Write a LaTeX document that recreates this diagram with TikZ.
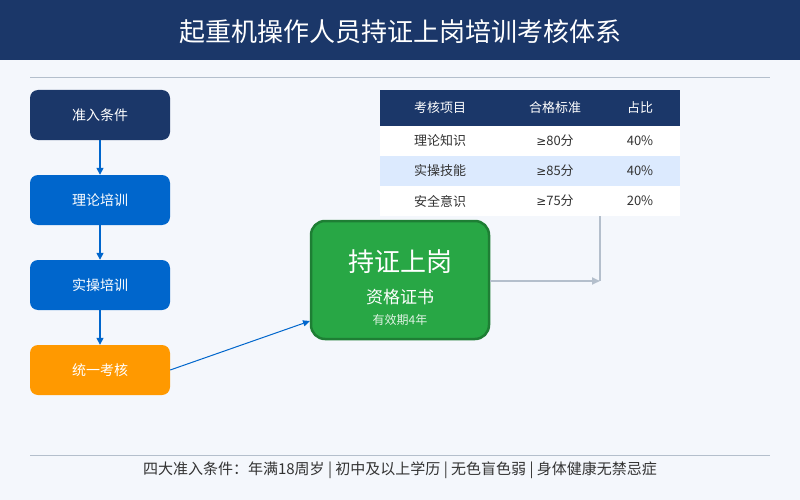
\documentclass[tikz,border=0pt]{standalone}
\usepackage{fontspec}
\setmainfont{Noto Sans CJK SC}
\newfontfamily\symf{DejaVu Sans}
\usetikzlibrary{arrows.meta}
\definecolor{navy}{HTML}{1B3769}
\definecolor{bgc}{HTML}{F4F7FC}
\definecolor{blu}{HTML}{0066CC}
\definecolor{orng}{HTML}{FF9900}
\definecolor{grn}{HTML}{28A745}
\definecolor{dgrn}{HTML}{1E7E34}
\definecolor{gline}{HTML}{B4BFCC}
\definecolor{rowblue}{HTML}{DCEAFE}
\definecolor{txt}{HTML}{333333}
\newcommand{\mygeq}{{\symf\fontsize{12}{14}\selectfont ≥}}
\tikzset{
  stepbox/.style={rectangle, rounded corners=8pt, minimum width=140pt, minimum height=50pt, text=white, font=\fontsize{14}{16}\selectfont, inner sep=0pt},
  flow/.style={draw=blu, line width=1.4pt, -{Triangle[length=7pt,width=7pt]}},
  hdr/.style={text=white, font=\fontsize{13}{15}\selectfont},
  cell/.style={text=txt, font=\fontsize{13}{15}\selectfont},
  grayline/.style={draw=gline, line width=1.8pt},
}
\begin{document}
\begin{tikzpicture}[x=1pt,y=-1pt]
\useasboundingbox (0,0) rectangle (800,500);
\fill[bgc] (0,0) rectangle (800,500);
\fill[navy] (0,0) rectangle (800,60);
\node[text=white, font=\fontsize{26}{30}\selectfont] (title) at (400,32) {起重机操作人员持证上岗培训考核体系};
\draw[gline, line width=1pt] (30,78) -- (770,78);
\draw[gline, line width=1pt] (30,455) -- (770,455);
\node[text=txt, font=\fontsize{15}{17}\selectfont] (foot) at (400,470) {四大准入条件：年满18周岁 | 初中及以上学历 | 无色盲色弱 | 身体健康无禁忌症};

% left steps
\node[stepbox, fill=navy] (s1) at (100,115) {准入条件};
\node[stepbox, fill=blu] (s2) at (100,200) {理论培训};
\node[stepbox, fill=blu] (s3) at (100,285) {实操培训};
\node[stepbox, fill=orng] (s4) at (100,370) {统一考核};
\draw[flow] (s1.south) -- (s2.north);
\draw[flow] (s2.south) -- (s3.north);
\draw[flow] (s3.south) -- (s4.north);

% certificate
\node[rectangle, rounded corners=14pt, fill=grn, draw=dgrn, line width=2.5pt, minimum width=178pt, minimum height=118pt] (cert) at (400,280) {};
\node[text=white, font=\fontsize{26}{30}\selectfont] (c1) at (400,262) {持证上岗};
\node[text=white, font=\fontsize{17}{20}\selectfont] (c2) at (400,297) {资格证书};
\node[text=white!85!grn, font=\fontsize{12}{14}\selectfont] (c3) at (400,320) {有效期4年};
\coordinate (cin) at (310,321);
\draw[draw=blu, line width=1pt, -{Triangle[length=7pt,width=6pt]}] (s4.east) -- (cin);

% table
\fill[navy] (380,90) rectangle (680,126);
\fill[white] (380,126) rectangle (680,156);
\fill[rowblue] (380,156) rectangle (680,186);
\fill[white] (380,186) rectangle (680,216);
\node[hdr] (h1) at (440,108) {考核项目};
\node[hdr] (h2) at (555,108) {合格标准};
\node[hdr] (h3) at (640,108) {占比};
\node[cell] (r11) at (440,141) {理论知识};
\node[cell] (r12) at (555,141) {\mygeq80分};
\node[cell] (r13) at (640,141) {40\%};
\node[cell] (r21) at (440,171) {实操技能};
\node[cell] (r22) at (555,171) {\mygeq85分};
\node[cell] (r23) at (640,171) {40\%};
\node[cell] (r31) at (440,201) {安全意识};
\node[cell] (r32) at (555,201) {\mygeq75分};
\node[cell] (r33) at (640,201) {20\%};
\coordinate (tb) at (600,216);
\coordinate (jn) at (600,281);
\draw[grayline] (tb) -- (jn);
\draw[grayline, -{Triangle[length=8pt,width=7pt]}] (cert.east |- jn) -- (jn);
\end{tikzpicture}
\end{document}
